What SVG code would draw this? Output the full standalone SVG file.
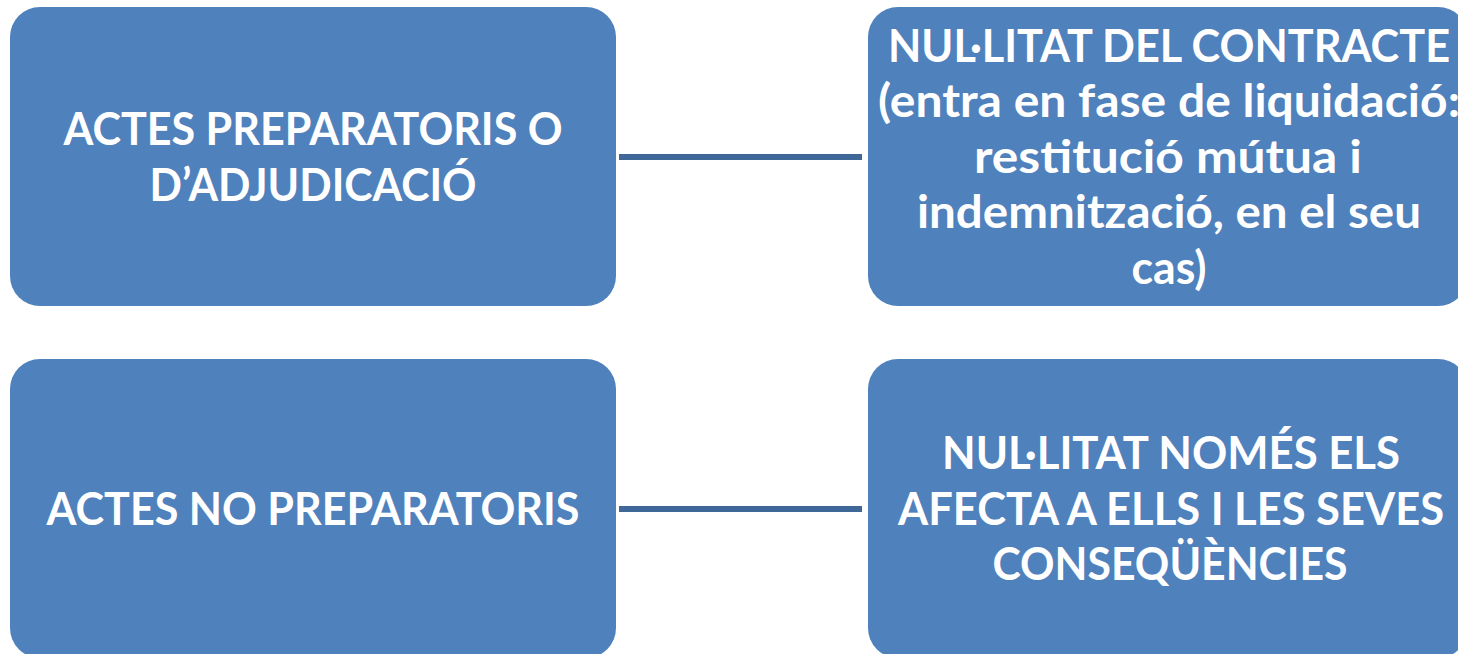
<svg xmlns="http://www.w3.org/2000/svg" width="1458" height="654" viewBox="0 0 1458 654">
  <style>
    .box { fill: #4F81BD; }
    .conn { stroke: #3F6797; stroke-width: 6; fill: none; }
    .t { font-family: "Lato", "Liberation Sans", sans-serif; font-weight: bold; font-size: 45px; fill: #FFFFFF; text-anchor: middle; }
  </style>
  <rect width="1458" height="654" fill="#FFFFFF"/>
  <g id="connectors">
    <line class="conn" x1="619" y1="157" x2="862" y2="157"/>
    <line class="conn" x1="619" y1="509" x2="862" y2="509"/>
  </g>
  <g id="node-actes-preparatoris">
    <rect class="box" x="10" y="7" width="606" height="299" rx="30" ry="30"/>
    <text class="t" x="313" y="145" textLength="499" lengthAdjust="spacingAndGlyphs">ACTES PREPARATORIS O</text>
    <text class="t" x="313" y="201" textLength="327" lengthAdjust="spacingAndGlyphs">D’ADJUDICACIÓ</text>
  </g>
  <g id="node-nullitat-contracte">
    <rect class="box" x="868" y="7" width="600" height="299" rx="30" ry="30"/>
    <text class="t" x="1169" y="62" textLength="562" lengthAdjust="spacingAndGlyphs">NUL·LITAT DEL CONTRACTE</text>
    <text class="t" x="1169" y="117" textLength="582" lengthAdjust="spacingAndGlyphs">(entra en fase de liquidació:</text>
    <text class="t" x="1168" y="173" textLength="388" lengthAdjust="spacingAndGlyphs">restitució mútua i</text>
    <text class="t" x="1169" y="228" textLength="504" lengthAdjust="spacingAndGlyphs">indemnització, en el seu</text>
    <text class="t" x="1169" y="284" textLength="75" lengthAdjust="spacingAndGlyphs">cas)</text>
  </g>
  <g id="node-actes-no-preparatoris">
    <rect class="box" x="10" y="359" width="606" height="299" rx="30" ry="30"/>
    <text class="t" x="313" y="525" textLength="533" lengthAdjust="spacingAndGlyphs">ACTES NO PREPARATORIS</text>
  </g>
  <g id="node-nullitat-nomes">
    <rect class="box" x="868" y="359" width="600" height="299" rx="30" ry="30"/>
    <text class="t" x="1171" y="469" textLength="458" lengthAdjust="spacingAndGlyphs">NUL·LITAT NOMÉS ELS</text>
    <text class="t" x="1171" y="525" textLength="546" lengthAdjust="spacingAndGlyphs">AFECTA A ELLS I LES SEVES</text>
    <text class="t" x="1170" y="580" textLength="355" lengthAdjust="spacingAndGlyphs">CONSEQÜÈNCIES</text>
  </g>
</svg>
